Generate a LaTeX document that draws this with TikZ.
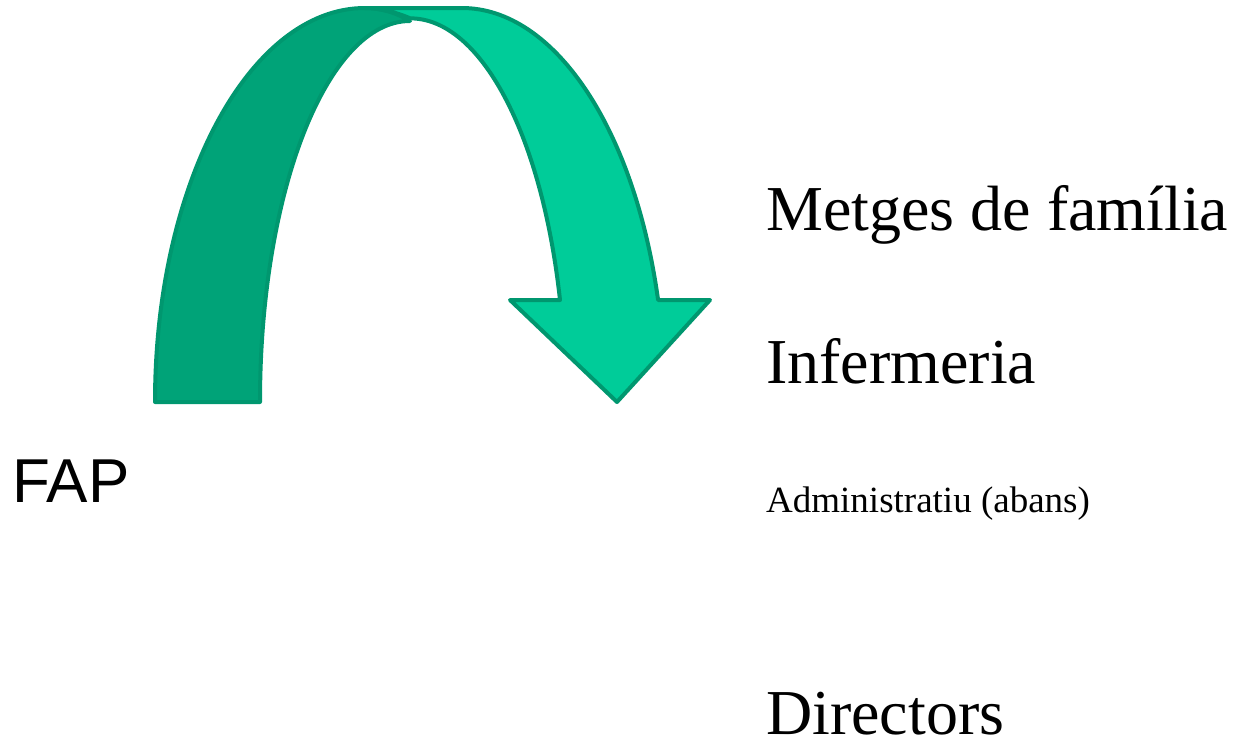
\documentclass[tikz,border=0pt]{standalone}
\usepackage{fontspec}
\setmainfont{Liberation Serif}
\newfontfamily\fapfont{Liberation Sans}
\definecolor{backgreen}{HTML}{00A378}
\definecolor{frontgreen}{HTML}{00CC99}
\definecolor{edgegreen}{HTML}{00976F}
\begin{document}
\begin{tikzpicture}[x=1pt,y=-1pt,line join=round,line cap=round]
\def \lx{766};
\useasboundingbox (0,0) rectangle (1234,742);
\tikzset{ribbon/.style={draw=edgegreen,line width=4pt},
  label/.style={anchor=base west,inner sep=0pt}}
% back half of the arch
\filldraw[ribbon,fill=backgreen] (155,402) arc[start angle=180,end angle=270,x radius=210,y radius=394]
  .. controls (380,8) and (395,12) .. (410,21)
  arc[start angle=270,end angle=180,x radius=150,y radius=381] -- cycle;
% front half with the head
\filldraw[ribbon,fill=frontgreen] (365,8) -- (462,8) arc[start angle=270,end angle=345,x radius=203,y radius=394]
  -- (710,300) -- (617,402) -- (510,300) -- (560,300)
  arc[start angle=345,end angle=270,x radius=155,y radius=380]
  .. controls (395,12) and (380,8) .. cycle;
\node[label,font=\fapfont\fontsize{62}{62}\selectfont] (fap) at (12,502) {FAP};
\foreach \n/\y/\s/\t in {metges/230/64/Metges de família,infer/383/64/Infermeria,
  admin/512/37/Administratiu (abans),direc/734/64/Directors}
  {\node[label,font=\fontsize{\s}{\s}\selectfont] (\n) at (\lx,\y) {\t};}
\end{tikzpicture}
\end{document}
